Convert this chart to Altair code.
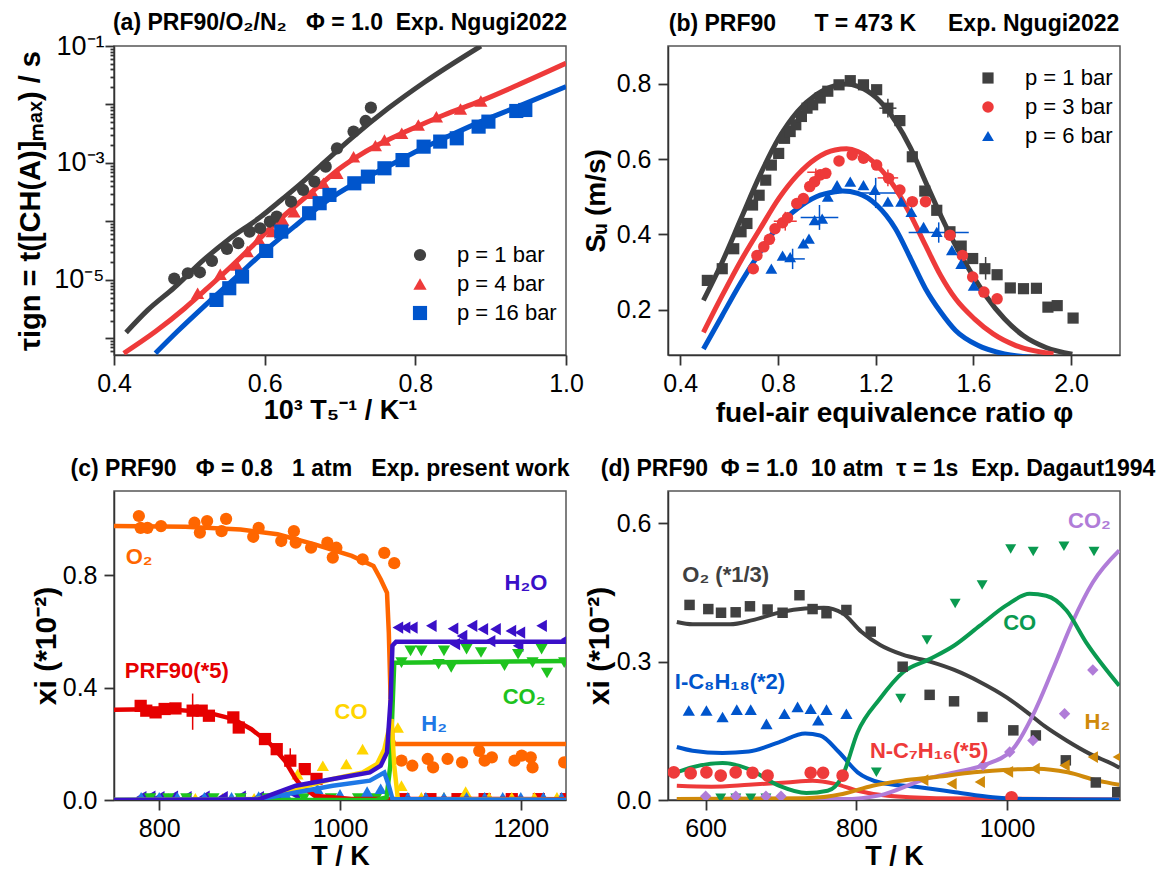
import altair as alt
import pandas as pd

FONT = "Liberation Sans"
GRAY = "#404040"
RED = "#EE3A3A"
BLUE = "#0055CC"
SP = "\u00a0"  # non-breaking space keeps wide gaps in titles

W, H = 452, 309

# ---------------- (a) ignition delay times ----------------
a_series = ["p = 1 bar", "p = 4 bar", "p = 16 bar"]
a_sim_series = ["1 bar model", "4 bar model", "16 bar model"]

a_p1_x = [0.480, 0.498, 0.514, 0.530, 0.550, 0.565, 0.580, 0.594, 0.607, 0.616,
          0.635, 0.651, 0.666, 0.681, 0.696, 0.718, 0.734, 0.741]
a_p1_tau = [1.05e-5, 1.30e-5, 1.35e-5, 2.11e-5, 3.39e-5, 4.24e-5, 6.70e-5, 7.64e-5,
            9.93e-5, 1.21e-4, 2.18e-4, 3.45e-4, 4.80e-4, 8.65e-4, 1.78e-3, 3.44e-3,
            5.22e-3, 8.83e-3]
a_p4_x = [0.511, 0.541, 0.563, 0.577, 0.592, 0.610, 0.624, 0.639, 0.664, 0.678,
          0.696, 0.718, 0.747, 0.759, 0.782, 0.804, 0.828, 0.860, 0.887]
a_p4_tau = [5.92e-6, 1.25e-5, 1.80e-5, 3.05e-5, 5.02e-5, 6.70e-5, 1.06e-4, 1.47e-4,
            3.03e-4, 4.49e-4, 6.65e-4, 1.28e-3, 1.98e-3, 2.47e-3, 3.21e-3, 4.47e-3,
            6.19e-3, 8.38e-3, 1.15e-2]
a_p16_x = [0.536, 0.553, 0.570, 0.602, 0.622, 0.659, 0.673, 0.686, 0.719, 0.737,
           0.759, 0.783, 0.811, 0.833, 0.855, 0.884, 0.897, 0.934, 0.946]
a_p16_tau = [4.55e-6, 7.21e-6, 1.14e-5, 3.13e-5, 6.70e-5, 1.38e-4, 2.05e-4, 2.84e-4,
             4.49e-4, 5.83e-4, 8.11e-4, 1.12e-3, 1.90e-3, 2.32e-3, 2.64e-3, 4.18e-3,
             5.09e-3, 7.74e-3, 8.05e-3]

a_p1_sim_x = [0.416, 0.445, 0.480, 0.519, 0.553, 0.592, 0.622, 0.651, 0.681, 0.715,
              0.764, 0.813, 0.887]
a_p1_sim_tau = [1.26e-6, 3.07e-6, 7.40e-6, 2.20e-5, 5.02e-5, 1.13e-4, 2.33e-4, 4.80e-4,
                1.08e-3, 2.64e-3, 8.59e-3, 2.45e-2, 1.0e-1]
a_p4_sim_x = [0.413, 0.455, 0.494, 0.524, 0.553, 0.583, 0.612, 0.642, 0.671, 0.700,
              0.730, 0.759, 0.789, 0.838, 0.887, 0.936, 1.0]
a_p4_sim_tau = [5.57e-7, 1.31e-6, 3.28e-6, 7.21e-6, 1.58e-5, 3.72e-5, 8.71e-5, 1.91e-4,
                3.94e-4, 8.11e-4, 1.46e-3, 2.32e-3, 3.52e-3, 6.62e-3, 1.15e-2, 2.15e-2,
                5.06e-2]
a_p16_sim_x = [0.455, 0.484, 0.524, 0.563, 0.602, 0.642, 0.681, 0.720, 0.759, 0.799,
               0.838, 0.887, 0.936, 1.0]
a_p16_sim_tau = [5.57e-7, 1.31e-6, 3.99e-6, 1.14e-5, 3.26e-5, 8.71e-5, 2.18e-4, 4.49e-4,
                 8.11e-4, 1.52e-3, 2.64e-3, 5.09e-3, 9.18e-3, 2.02e-2]

# ---------------- (b) laminar flame speed ----------------
b_series = ["p = 1 bar", "p = 3 bar", "p = 6 bar"]
b_sim_series = ["1 bar model", "3 bar model", "6 bar model"]

b_p1_phi = [0.511, 0.572, 0.619, 0.649, 0.673, 0.696, 0.723, 0.750, 0.773, 0.803,
            0.827, 0.850, 0.873, 0.896, 0.919, 0.942, 0.973, 1.004, 1.050, 1.096,
            1.150, 1.204, 1.250, 1.299, 1.350, 1.401, 1.450, 1.504, 1.550, 1.597,
            1.647, 1.697, 1.751, 1.805, 1.858, 1.905, 1.943, 2.008]
b_p1_su = [0.278, 0.309, 0.362, 0.407, 0.429, 0.478, 0.504, 0.544, 0.584, 0.615,
           0.655, 0.673, 0.691, 0.713, 0.735, 0.744, 0.762, 0.780, 0.797, 0.808,
           0.797, 0.784, 0.735, 0.702, 0.606, 0.515, 0.464, 0.407, 0.369, 0.336,
           0.309, 0.293, 0.258, 0.256, 0.257, 0.207, 0.211, 0.178]
b_p3_phi = [0.699, 0.714, 0.742, 0.765, 0.788, 0.819, 0.839, 0.877, 0.904, 0.930,
            0.950, 0.973, 0.996, 1.050, 1.104, 1.150, 1.204, 1.253, 1.299, 1.350,
            1.404, 1.504, 1.555, 1.597, 1.643, 1.697]
b_p3_su = [0.309, 0.344, 0.367, 0.387, 0.415, 0.431, 0.444, 0.482, 0.495, 0.527,
           0.540, 0.558, 0.562, 0.595, 0.611, 0.602, 0.584, 0.549, 0.518, 0.487,
           0.487, 0.398, 0.344, 0.287, 0.247, 0.229]
b_p6_phi = [0.773, 0.819, 0.850, 0.904, 0.927, 0.950, 0.981, 1.004, 1.042, 1.096,
            1.150, 1.196, 1.250, 1.304, 1.346, 1.396, 1.450, 1.512, 1.550, 1.601]
b_p6_su = [0.309, 0.344, 0.340, 0.376, 0.389, 0.438, 0.442, 0.500, 0.531, 0.540,
           0.531, 0.518, 0.487, 0.487, 0.460, 0.420, 0.407, 0.358, 0.322, 0.264]

b_p1_sim_phi = [0.495, 0.572, 0.649, 0.727, 0.803, 0.880, 0.957, 1.034, 1.081, 1.127,
                1.204, 1.281, 1.343, 1.404, 1.466, 1.527, 1.589, 1.650, 1.727, 1.805,
                1.897, 2.005]
b_p1_sim_su = [0.225, 0.327, 0.442, 0.558, 0.655, 0.726, 0.771, 0.795, 0.799, 0.793,
               0.762, 0.700, 0.629, 0.540, 0.451, 0.371, 0.300, 0.238, 0.176, 0.131,
               0.100, 0.082]
b_p3_sim_phi = [0.495, 0.572, 0.649, 0.727, 0.803, 0.880, 0.957, 1.034, 1.081, 1.127,
                1.204, 1.281, 1.343, 1.404, 1.466, 1.527, 1.604, 1.681, 1.774, 1.928]
b_p3_sim_su = [0.140, 0.238, 0.331, 0.415, 0.495, 0.558, 0.602, 0.624, 0.627, 0.620,
               0.584, 0.522, 0.451, 0.371, 0.291, 0.229, 0.176, 0.136, 0.105, 0.083]
b_p6_sim_phi = [0.495, 0.572, 0.649, 0.727, 0.803, 0.880, 0.957, 1.034, 1.065, 1.127,
                1.204, 1.281, 1.343, 1.404, 1.466, 1.527, 1.620, 1.727, 1.835]
b_p6_sim_su = [0.096, 0.185, 0.273, 0.353, 0.424, 0.469, 0.500, 0.513, 0.515, 0.509,
               0.478, 0.415, 0.336, 0.256, 0.194, 0.145, 0.105, 0.083, 0.074]

# error bars: series, centre phi, centre Su, half width in phi, half height in Su
b_err_series = ["1 bar model", "1 bar model", "3 bar model", "3 bar model",
                "3 bar model", "6 bar model", "6 bar model", "6 bar model",
                "6 bar model"]
b_err_phi = [1.250, 1.650, 0.830, 0.955, 1.250, 0.860, 0.970, 1.200, 1.458]
b_err_su = [0.735, 0.310, 0.435, 0.565, 0.550, 0.335, 0.445, 0.510, 0.405]
b_err_dphi = [0.035, 0.0, 0.047, 0.035, 0.042, 0.050, 0.077, 0.096, 0.123]
b_err_dsu = [0.025, 0.030, 0.025, 0.010, 0.022, 0.027, 0.033, 0.040, 0.027]

# ---------------- (c) JSR species, present work ----------------
c_species = ["O2", "PRF90", "CO", "H2O", "CO2", "H2"]
c_colors = ["#FF6600", "#E60000", "#FFD500", "#3A10C8", "#1EC31E", "#1E78E6"]
c_shapes = ["circle", "square", "triangle-up", "triangle-left", "triangle-down",
            "triangle-up"]
c_sizes = [150, 150, 170, 170, 170, 170]

c_o2_T = [777.5, 779.5, 787, 802, 839, 845, 853, 869, 874, 904, 910, 935, 949, 951,
          968, 986, 992, 996, 1025, 1049, 1060, 1068, 1080, 1097, 1103, 1119, 1135,
          1154, 1160, 1168, 1193, 1201, 1211, 1213, 1248]
c_o2_x = [1.011, 0.969, 0.969, 0.975, 0.987, 0.952, 0.993, 0.957, 1.001, 0.937,
          0.969, 0.922, 0.957, 0.916, 0.898, 0.916, 0.863, 0.898, 0.857, 0.880,
          0.843, 0.140, 0.122, 0.146, 0.116, 0.146, 0.134, 0.175, 0.140, 0.152,
          0.140, 0.158, 0.152, 0.116, 0.134]
c_prf_T = [779.5, 785.7, 796, 806, 818, 837, 847, 855, 882, 888, 917, 930, 945, 961,
           974, 1070, 1100, 1130, 1160, 1190, 1220, 1250]
c_prf_x = [0.335, 0.318, 0.312, 0.324, 0.326, 0.318, 0.318, 0.300, 0.294, 0.258,
           0.217, 0.181, 0.140, 0.110, 0.075, 0.003, 0.003, 0.003, 0.003, 0.003,
           0.003, 0.003]
c_co_T = [790, 810, 840, 870, 905, 953, 981, 1007, 1025, 1064, 1068, 1090, 1115,
          1139, 1165, 1190, 1215, 1240]
c_co_x = [0.006, 0.006, 0.006, 0.006, 0.006, 0.092, 0.122, 0.128, 0.181, 0.258,
          0.051, 0.010, 0.010, 0.030, 0.010, 0.010, 0.010, 0.010]
c_h2o_T = [780, 790, 800, 815, 830, 850, 870, 890, 910, 930, 950, 1064, 1072, 1080,
           1101, 1125, 1127, 1135, 1146, 1158, 1166, 1172, 1189, 1197, 1199, 1223,
           1250]
c_h2o_x = [0.010, 0.012, 0.010, 0.012, 0.010, 0.012, 0.010, 0.012, 0.010, 0.015,
           0.020, 0.614, 0.614, 0.614, 0.620, 0.610, 0.555, 0.584, 0.620, 0.608,
           0.566, 0.608, 0.602, 0.549, 0.596, 0.620, 0.572]
c_co2_T = [790, 810, 830, 860, 890, 920, 960, 990, 1020, 1040, 1068, 1078, 1090,
           1109, 1115, 1123, 1140, 1156, 1182, 1197, 1213, 1223, 1229, 1248]
c_co2_x = [0.005, 0.005, 0.005, 0.005, 0.005, 0.005, 0.005, 0.005, 0.005, 0.005,
           0.489, 0.531, 0.531, 0.483, 0.531, 0.472, 0.537, 0.525, 0.478, 0.519,
           0.489, 0.537, 0.452, 0.489]
c_h2_T = [780, 800, 820, 850, 880, 910, 940, 975, 1000, 1030, 1045, 1075, 1095,
          1115, 1140, 1160, 1180, 1200, 1225, 1245]
c_h2_x = [0.010, 0.010, 0.010, 0.010, 0.010, 0.012, 0.020, 0.040, 0.020, 0.030,
          0.040, 0.010, 0.010, 0.010, 0.010, 0.010, 0.010, 0.010, 0.010, 0.010]

c_o2_sim_T = [750, 829, 890, 931, 972, 1013, 1037, 1045, 1052, 1054, 1056, 1058, 1060,
              1250]
c_o2_sim_x = [0.975, 0.973, 0.963, 0.946, 0.910, 0.869, 0.833, 0.786, 0.738, 0.596,
              0.359, 0.217, 0.199, 0.199]
c_prf_sim_T = [750, 808, 853, 882, 902, 923, 939, 951, 957, 972, 1013, 1250]
c_prf_sim_x = [0.321, 0.324, 0.312, 0.288, 0.252, 0.199, 0.140, 0.075, 0.051, 0.015,
               0.004, 0.003]
c_co_sim_T = [750, 910, 951, 992, 1025, 1041, 1049, 1054, 1057, 1060, 1064, 1250]
c_co_sim_x = [0.0, 0.004, 0.039, 0.075, 0.098, 0.128, 0.181, 0.252, 0.288, 0.122,
              0.004, 0.0]
c_h2o_sim_T = [750, 910, 951, 992, 1033, 1045, 1052, 1056, 1058, 1062, 1250]
c_h2o_sim_x = [0.0, 0.002, 0.051, 0.075, 0.098, 0.122, 0.169, 0.359, 0.549, 0.563,
               0.563]
c_co2_sim_T = [750, 1040, 1051.5, 1055.6, 1060, 1250]
c_co2_sim_x = [0.0, 0.0, 0.009, 0.122, 0.489, 0.495]
c_h2_sim_T = [750, 910, 951, 992, 1033, 1049, 1054, 1058, 1250]
c_h2_sim_x = [0.0, 0.002, 0.027, 0.051, 0.069, 0.098, 0.051, 0.004, 0.0]

# PRF90 error bars
c_err_T = [837, 945]
c_err_lo = [0.250, 0.122]
c_err_hi = [0.379, 0.184]

c_label_text = ["O₂", "PRF90(*5)", "CO", "H₂O", "CO₂", "H₂"]
c_label_T = [763, 762, 994, 1182, 1180, 1090]
c_label_x = [0.865, 0.460, 0.314, 0.774, 0.365, 0.272]

# ---------------- (d) JSR species, Dagaut 1994 ----------------
d_species = ["O2", "CO", "CO2", "H2", "IC8", "NC7"]
d_colors = ["#404040", "#0A9A50", "#B07CD8", "#D08A0A", "#0055CC", "#EE3A3A"]
d_shapes = ["square", "triangle-down", "diamond", "triangle-left", "triangle-up",
            "circle"]
d_sizes = [110, 160, 140, 150, 160, 130]

d_o2_T = [578.6, 603.5, 620.4, 639.8, 658.8, 682.2, 702.1, 724.5, 741.9, 760.4,
          786.8, 819.1, 861.5, 897.3, 929.7, 967.5, 1008.4, 1038.3, 1078.1, 1117.9,
          1146.3]
d_o2_x = [0.423, 0.414, 0.406, 0.407, 0.420, 0.413, 0.406, 0.444, 0.414, 0.405,
          0.412, 0.365, 0.289, 0.228, 0.214, 0.180, 0.151, 0.140, 0.086, 0.038,
          0.017]
d_co_T = [620, 640, 660, 680, 826.6, 858.9, 893.8, 931.2, 967.0, 1004.9, 1034.8,
          1075.6, 1115.5]
d_co_x = [0.004, 0.004, 0.004, 0.004, 0.060, 0.220, 0.347, 0.426, 0.466, 0.544,
          0.539, 0.550, 0.539]
d_co2_T = [600, 640, 680, 700, 968.2, 1003.6, 1034.4, 1076.4, 1113.9]
d_co2_x = [0.008, 0.008, 0.008, 0.008, 0.075, 0.104, 0.129, 0.187, 0.282]
d_h2_T = [888.8, 926.4, 963.9, 1001.3, 1036.7, 1076.4, 1113.9, 1147.0]
d_h2_x = [0.043, 0.035, 0.039, 0.061, 0.068, 0.075, 0.093, 0.093]
d_ic8_T = [577.6, 601.0, 622.4, 641.3, 659.8, 680.7, 704.6, 722.0, 739.4, 749.4,
           760.4, 786.8]
d_ic8_x = [0.194, 0.194, 0.180, 0.196, 0.196, 0.165, 0.187, 0.202, 0.198, 0.173,
           0.196, 0.187]
d_nc7_T = [557.7, 580.1, 601.0, 620.0, 639.8, 662.3, 682.2, 739.4, 755.9, 781.8,
           1006.0]
d_nc7_x = [0.060, 0.058, 0.060, 0.053, 0.060, 0.059, 0.053, 0.059, 0.059, 0.053,
           0.006]

d_o2_sim_T = [561.7, 582.6, 632.4, 662.3, 702.1, 732.0, 756.9, 781.8, 806.7, 831.6,
              861.5, 897.7, 930.0, 964.0, 1000.0, 1026.0, 1050.0, 1079.0, 1110.0,
              1140.0, 1149.3]
d_o2_sim_x = [0.386, 0.381, 0.381, 0.390, 0.408, 0.415, 0.417, 0.405, 0.365, 0.336,
              0.315, 0.300, 0.282, 0.256, 0.222, 0.191, 0.160, 0.129, 0.100, 0.078,
              0.070]
d_co_sim_T = [561.7, 582.6, 622.4, 657.3, 697.1, 733.7, 761.9, 781.8, 801.7, 831.0,
              862.0, 898.0, 930.0, 964.0, 999.0, 1030.0, 1052.0, 1079.0, 1105.0,
              1149.0]
d_co_sim_x = [0.060, 0.071, 0.080, 0.067, 0.031, 0.015, 0.020, 0.053, 0.147, 0.219,
              0.277, 0.306, 0.335, 0.378, 0.422, 0.447, 0.443, 0.411, 0.342, 0.248]
d_co2_sim_T = [561.7, 781.8, 831.0, 893.0, 933.0, 968.0, 1008.0, 1034.0, 1061.0,
               1087.0, 1114.0, 1149.0]
d_co2_sim_x = [0.001, 0.002, 0.010, 0.046, 0.061, 0.075, 0.111, 0.183, 0.284, 0.386,
               0.472, 0.541]
d_h2_sim_T = [561.7, 732.0, 781.8, 821.6, 861.5, 906.3, 956.1, 1005.9, 1040.7, 1080.6,
              1120.4, 1149.0]
d_h2_sim_x = [0.002, 0.004, 0.013, 0.031, 0.042, 0.050, 0.060, 0.066, 0.068, 0.060,
              0.042, 0.033]
d_ic8_sim_T = [561.7, 582.6, 622.4, 657.3, 697.1, 732.0, 751.9, 776.8, 801.7, 831.6,
               881.4, 931.2, 981.0, 1030.8, 1149.0]
d_ic8_sim_x = [0.115, 0.107, 0.102, 0.105, 0.125, 0.144, 0.140, 0.104, 0.060, 0.038,
               0.028, 0.017, 0.006, 0.002, 0.001]
d_nc7_sim_T = [561.7, 607.5, 657.3, 707.1, 742.0, 771.8, 801.7, 841.5, 906.3, 1149.0]
d_nc7_sim_x = [0.031, 0.029, 0.033, 0.038, 0.042, 0.035, 0.020, 0.009, 0.004, 0.001]

d_label_text = ["O₂ (*1/3)", "CO", "CO₂", "H₂", "I-C₈H₁₈(*2)", "N-C₇H₁₆(*5)"]
d_label_T = [569, 995, 1081, 1103, 559, 818]
d_label_x = [0.488, 0.383, 0.604, 0.169, 0.256, 0.107]


def long_table(groups, xname, yname, key):
    rows = []
    for name, xs, ys in groups:
        for xv, yv in zip(xs, ys):
            rows.append({xname: xv, yname: yv, key: name})
    return pd.DataFrame(rows)


def title_params(text, dx=0, offset=10):
    return alt.TitleParams(text=text.replace(" ", SP), font=FONT, fontSize=23,
                           fontWeight="bold", anchor="middle", frame="group",
                           offset=offset, dx=dx, color="black")


def legend_params(x, y):
    return alt.Legend(title=None, orient="none", legendX=x, legendY=y,
                      labelFont=FONT, labelFontSize=22, labelColor="black",
                      labelOffset=26, rowPadding=7, padding=0, symbolStrokeWidth=0)


# ---------------- panel (a) ----------------
a_pts = long_table([(a_series[0], a_p1_x, a_p1_tau), (a_series[1], a_p4_x, a_p4_tau),
                    (a_series[2], a_p16_x, a_p16_tau)], "x", "tau", "p")
a_sim = long_table([(a_sim_series[0], a_p1_sim_x, a_p1_sim_tau),
                    (a_sim_series[1], a_p4_sim_x, a_p4_sim_tau),
                    (a_sim_series[2], a_p16_sim_x, a_p16_sim_tau)], "x", "tau", "p")

# decade ticks plus the 2..9 minor ticks of the log axis
a_ticks = []
for e in range(-7, -1):
    for m in range(1, 10):
        v = m * 10.0 ** e
        if 5.2e-7 <= v <= 0.1:
            a_ticks.append(float(f"{v:.0e}"))
a_ticks.append(0.1)

a_x = alt.X("x:Q", title="10³ T₅⁻¹ / K⁻¹",
            scale=alt.Scale(domain=[0.4, 1.0], nice=False, zero=False),
            axis=alt.Axis(values=[0.4, 0.6, 0.8, 1.0], format=".1f", titleFontSize=27,
                          titlePadding=1))
a_y = alt.Y("tau:Q", title="τign = t([CH(A)]ₘₐₓ) / s",
            scale=alt.Scale(type="log", domain=[5.2e-7, 0.1], nice=False),
            axis=alt.Axis(values=a_ticks, titleFontSize=29, titlePadding=8,
                          labelFontSize=27, labelPadding=1,
                          labelExpr="datum.value == 0.1 ? '10⁻¹' : datum.value == 0.001 ? '10⁻³' : datum.value == 0.00001 ? '10⁻⁵' : ''",
                          tickSize={"condition": {"test": "indexof([0.000001,0.00001,0.0001,0.001,0.01,0.1], datum.value) >= 0",
                                                  "value": 9}, "value": 4}))
a_legend = legend_params(295, 198)

pa = alt.layer(
    alt.Chart(a_sim).mark_line(strokeWidth=5, clip=True, interpolate="monotone").encode(
        x=a_x, y=a_y,
        stroke=alt.Stroke("p:N", scale=alt.Scale(domain=a_sim_series,
                                                 range=[GRAY, RED, BLUE]), legend=None),
        detail="p:N"),
    alt.Chart(a_pts).mark_point(filled=True, opacity=1, clip=True).encode(
        x=a_x, y=a_y,
        color=alt.Color("p:N", scale=alt.Scale(domain=a_series, range=[GRAY, RED, BLUE]),
                        legend=a_legend),
        shape=alt.Shape("p:N", scale=alt.Scale(domain=a_series,
                                               range=["circle", "triangle-up", "square"]),
                        legend=a_legend),
        size=alt.Size("p:N", scale=alt.Scale(domain=a_series, range=[150, 200, 125]),
                      legend=a_legend)),
).properties(width=W, height=H,
             title=title_params("(a) PRF90/O₂/N₂   Φ = 1.0  Exp. Ngugi2022", offset=-3))

# ---------------- panel (b) ----------------
b_pts = long_table([(b_series[0], b_p1_phi, b_p1_su), (b_series[1], b_p3_phi, b_p3_su),
                    (b_series[2], b_p6_phi, b_p6_su)], "phi", "su", "p")
b_sim = long_table([(b_sim_series[0], b_p1_sim_phi, b_p1_sim_su),
                    (b_sim_series[1], b_p3_sim_phi, b_p3_sim_su),
                    (b_sim_series[2], b_p6_sim_phi, b_p6_sim_su)], "phi", "su", "p")
b_err = pd.DataFrame({"p": b_err_series, "phi": b_err_phi, "su": b_err_su,
                      "phi_lo": [c - d for c, d in zip(b_err_phi, b_err_dphi)],
                      "phi_hi": [c + d for c, d in zip(b_err_phi, b_err_dphi)],
                      "su_lo": [c - d for c, d in zip(b_err_su, b_err_dsu)],
                      "su_hi": [c + d for c, d in zip(b_err_su, b_err_dsu)]})

b_xscale = alt.Scale(domain=[0.35, 2.2], nice=False, zero=False)
b_yscale = alt.Scale(domain=[0.08, 0.9], nice=False, zero=False)
b_xaxis = alt.Axis(values=[0.4, 0.8, 1.2, 1.6, 2.0], format=".1f", titleFontSize=28,
                   titlePadding=3)
b_yaxis = alt.Axis(values=[0.2, 0.4, 0.6, 0.8], format=".1f", titleFontSize=28,
                   titlePadding=6, labelPadding=7)
B_XT = "fuel-air equivalence ratio φ"
B_YT = "Sᵤ (m/s)"


def bx(f):
    return alt.X(f"{f}:Q", title=B_XT, scale=b_xscale, axis=b_xaxis)


def by(f):
    return alt.Y(f"{f}:Q", title=B_YT, scale=b_yscale, axis=b_yaxis)


b_legend = legend_params(309, 21)
b_stroke = alt.Stroke("p:N", scale=alt.Scale(domain=b_sim_series, range=[GRAY, RED, BLUE]),
                      legend=None)

pb = alt.layer(
    alt.Chart(b_sim).mark_line(strokeWidth=5, clip=True, interpolate="monotone").encode(
        x=bx("phi"), y=by("su"), stroke=b_stroke, detail="p:N"),
    alt.Chart(b_err).mark_rule(strokeWidth=1.5).encode(
        x=bx("phi_lo"), x2="phi_hi:Q", y=by("su"), stroke=b_stroke),
    alt.Chart(b_err).mark_rule(strokeWidth=1.5).encode(
        x=bx("phi"), y=by("su_lo"), y2="su_hi:Q", stroke=b_stroke),
    alt.Chart(b_pts).mark_point(filled=True, opacity=1).encode(
        x=bx("phi"), y=by("su"),
        color=alt.Color("p:N", scale=alt.Scale(domain=b_series, range=[GRAY, RED, BLUE]),
                        legend=b_legend),
        shape=alt.Shape("p:N", scale=alt.Scale(domain=b_series,
                                               range=["square", "circle", "triangle-up"]),
                        legend=b_legend),
        size=alt.Size("p:N", scale=alt.Scale(domain=b_series, range=[125, 140, 190]),
                      legend=b_legend)),
).properties(width=W, height=H,
             title=title_params("(b) PRF90      T = 473 K     Exp. Ngugi2022"))

# ---------------- panel (c) ----------------
XI_T = "xi (*10⁻²)"
T_T = "T / K"

c_pts = long_table([("O2", c_o2_T, c_o2_x), ("PRF90", c_prf_T, c_prf_x),
                    ("CO", c_co_T, c_co_x), ("H2O", c_h2o_T, c_h2o_x),
                    ("CO2", c_co2_T, c_co2_x), ("H2", c_h2_T, c_h2_x)], "T", "xi", "sp")
c_sim = long_table([("O2", c_o2_sim_T, c_o2_sim_x), ("PRF90", c_prf_sim_T, c_prf_sim_x),
                    ("CO2", c_co2_sim_T, c_co2_sim_x), ("CO", c_co_sim_T, c_co_sim_x),
                    ("H2", c_h2_sim_T, c_h2_sim_x), ("H2O", c_h2o_sim_T, c_h2o_sim_x)],
                   "T", "xi", "sp")
c_lab = pd.DataFrame({"T": c_label_T, "xi": c_label_x, "sp": c_species,
                      "txt": c_label_text})
c_err = pd.DataFrame({"T": c_err_T, "lo": c_err_lo, "hi": c_err_hi})

c_xscale = alt.Scale(domain=[750, 1250], nice=False, zero=False)
c_yscale = alt.Scale(domain=[0, 1.1], nice=False)
c_xaxis = alt.Axis(values=[800, 1000, 1200], format="d", titleFontSize=27,
                   titlePadding=2)
c_yaxis = alt.Axis(values=[0.0, 0.4, 0.8], format=".1f", titleFontSize=30,
                   titlePadding=1, labelPadding=7)


def cx(f):
    return alt.X(f"{f}:Q", title=T_T, scale=c_xscale, axis=c_xaxis)


def cy(f):
    return alt.Y(f"{f}:Q", title=XI_T, scale=c_yscale, axis=c_yaxis)


c_col = alt.Color("sp:N", scale=alt.Scale(domain=c_species, range=c_colors), legend=None)

pc = alt.layer(
    alt.Chart(c_pts).mark_point(filled=True, opacity=1, clip=True).encode(
        x=cx("T"), y=cy("xi"), color=c_col,
        shape=alt.Shape("sp:N", scale=alt.Scale(domain=c_species, range=c_shapes),
                        legend=None),
        size=alt.Size("sp:N", scale=alt.Scale(domain=c_species, range=c_sizes),
                      legend=None)),
    alt.Chart(c_err).mark_rule(strokeWidth=1.5, color="#E60000").encode(
        x=cx("T"), y=cy("lo"), y2="hi:Q"),
    alt.Chart(c_sim).mark_line(strokeWidth=4.5, clip=True).encode(
        x=cx("T"), y=cy("xi"), color=c_col, detail="sp:N"),
    alt.Chart(c_lab).mark_text(align="left", baseline="middle", font=FONT,
                               fontSize=22, fontWeight="bold").encode(
        x=cx("T"), y=cy("xi"), text="txt:N", color=c_col),
).properties(width=W, height=H,
             title=title_params("(c) PRF90   Φ = 0.8   1 atm   Exp. present work",
                                dx=-20))

# ---------------- panel (d) ----------------
d_pts = long_table([("O2", d_o2_T, d_o2_x), ("CO", d_co_T, d_co_x),
                    ("CO2", d_co2_T, d_co2_x), ("H2", d_h2_T, d_h2_x),
                    ("IC8", d_ic8_T, d_ic8_x), ("NC7", d_nc7_T, d_nc7_x)],
                   "T", "xi", "sp")
d_sim = long_table([("NC7", d_nc7_sim_T, d_nc7_sim_x), ("IC8", d_ic8_sim_T, d_ic8_sim_x),
                    ("O2", d_o2_sim_T, d_o2_sim_x), ("CO2", d_co2_sim_T, d_co2_sim_x),
                    ("CO", d_co_sim_T, d_co_sim_x), ("H2", d_h2_sim_T, d_h2_sim_x)],
                   "T", "xi", "sp")
d_lab = pd.DataFrame({"T": d_label_T, "xi": d_label_x, "sp": d_species,
                      "txt": d_label_text})

d_xscale = alt.Scale(domain=[550, 1150], nice=False, zero=False)
d_yscale = alt.Scale(domain=[0, 0.67], nice=False)
d_xaxis = alt.Axis(values=[600, 800, 1000], format="d", titleFontSize=27,
                   titlePadding=2)
d_yaxis = alt.Axis(values=[0.0, 0.3, 0.6], format=".1f", titleFontSize=30,
                   titlePadding=2, labelPadding=7)


def dx_(f):
    return alt.X(f"{f}:Q", title=T_T, scale=d_xscale, axis=d_xaxis)


def dy_(f):
    return alt.Y(f"{f}:Q", title=XI_T, scale=d_yscale, axis=d_yaxis)


d_col = alt.Color("sp:N", scale=alt.Scale(domain=d_species, range=d_colors), legend=None)

pd_ = alt.layer(
    alt.Chart(d_sim).mark_line(strokeWidth=4, clip=True, interpolate="monotone").encode(
        x=dx_("T"), y=dy_("xi"), color=d_col, detail="sp:N"),
    alt.Chart(d_pts).mark_point(filled=True, opacity=1, clip=True).encode(
        x=dx_("T"), y=dy_("xi"), color=d_col,
        shape=alt.Shape("sp:N", scale=alt.Scale(domain=d_species, range=d_shapes),
                        legend=None),
        size=alt.Size("sp:N", scale=alt.Scale(domain=d_species, range=d_sizes),
                      legend=None)),
    alt.Chart(d_lab).mark_text(align="left", baseline="middle", font=FONT,
                               fontSize=22, fontWeight="bold").encode(
        x=dx_("T"), y=dy_("xi"), text="txt:N", color=d_col),
).properties(width=W, height=H,
             title=title_params("(d) PRF90  Φ = 1.0  10 atm  τ = 1s  Exp. Dagaut1994",
                                dx=-16))

chart = alt.concat(
    pa, pb, pc, pd_, columns=2, spacing={"row": 136, "column": 102}, bounds="flush"
).resolve_scale(
    color="independent", stroke="independent", shape="independent",
    size="independent", x="independent", y="independent"
).properties(
    padding={"left": 16, "top": 11, "right": 2, "bottom": 2},
    background="white",
).configure_view(
    stroke="#555555", strokeWidth=1.5
).configure_axis(
    grid=False, labelFont=FONT, labelFontSize=25, labelColor="black",
    titleFont=FONT, titleFontWeight="bold", titleColor="black",
    domainColor="#333333", domainWidth=1.5, tickColor="#333333", tickWidth=1.8,
    tickSize=10, labelPadding=6, labelFlush=False, labelOverlap=False
)

chart.save("out.html", embed_options={"renderer": "svg", "actions": False})
